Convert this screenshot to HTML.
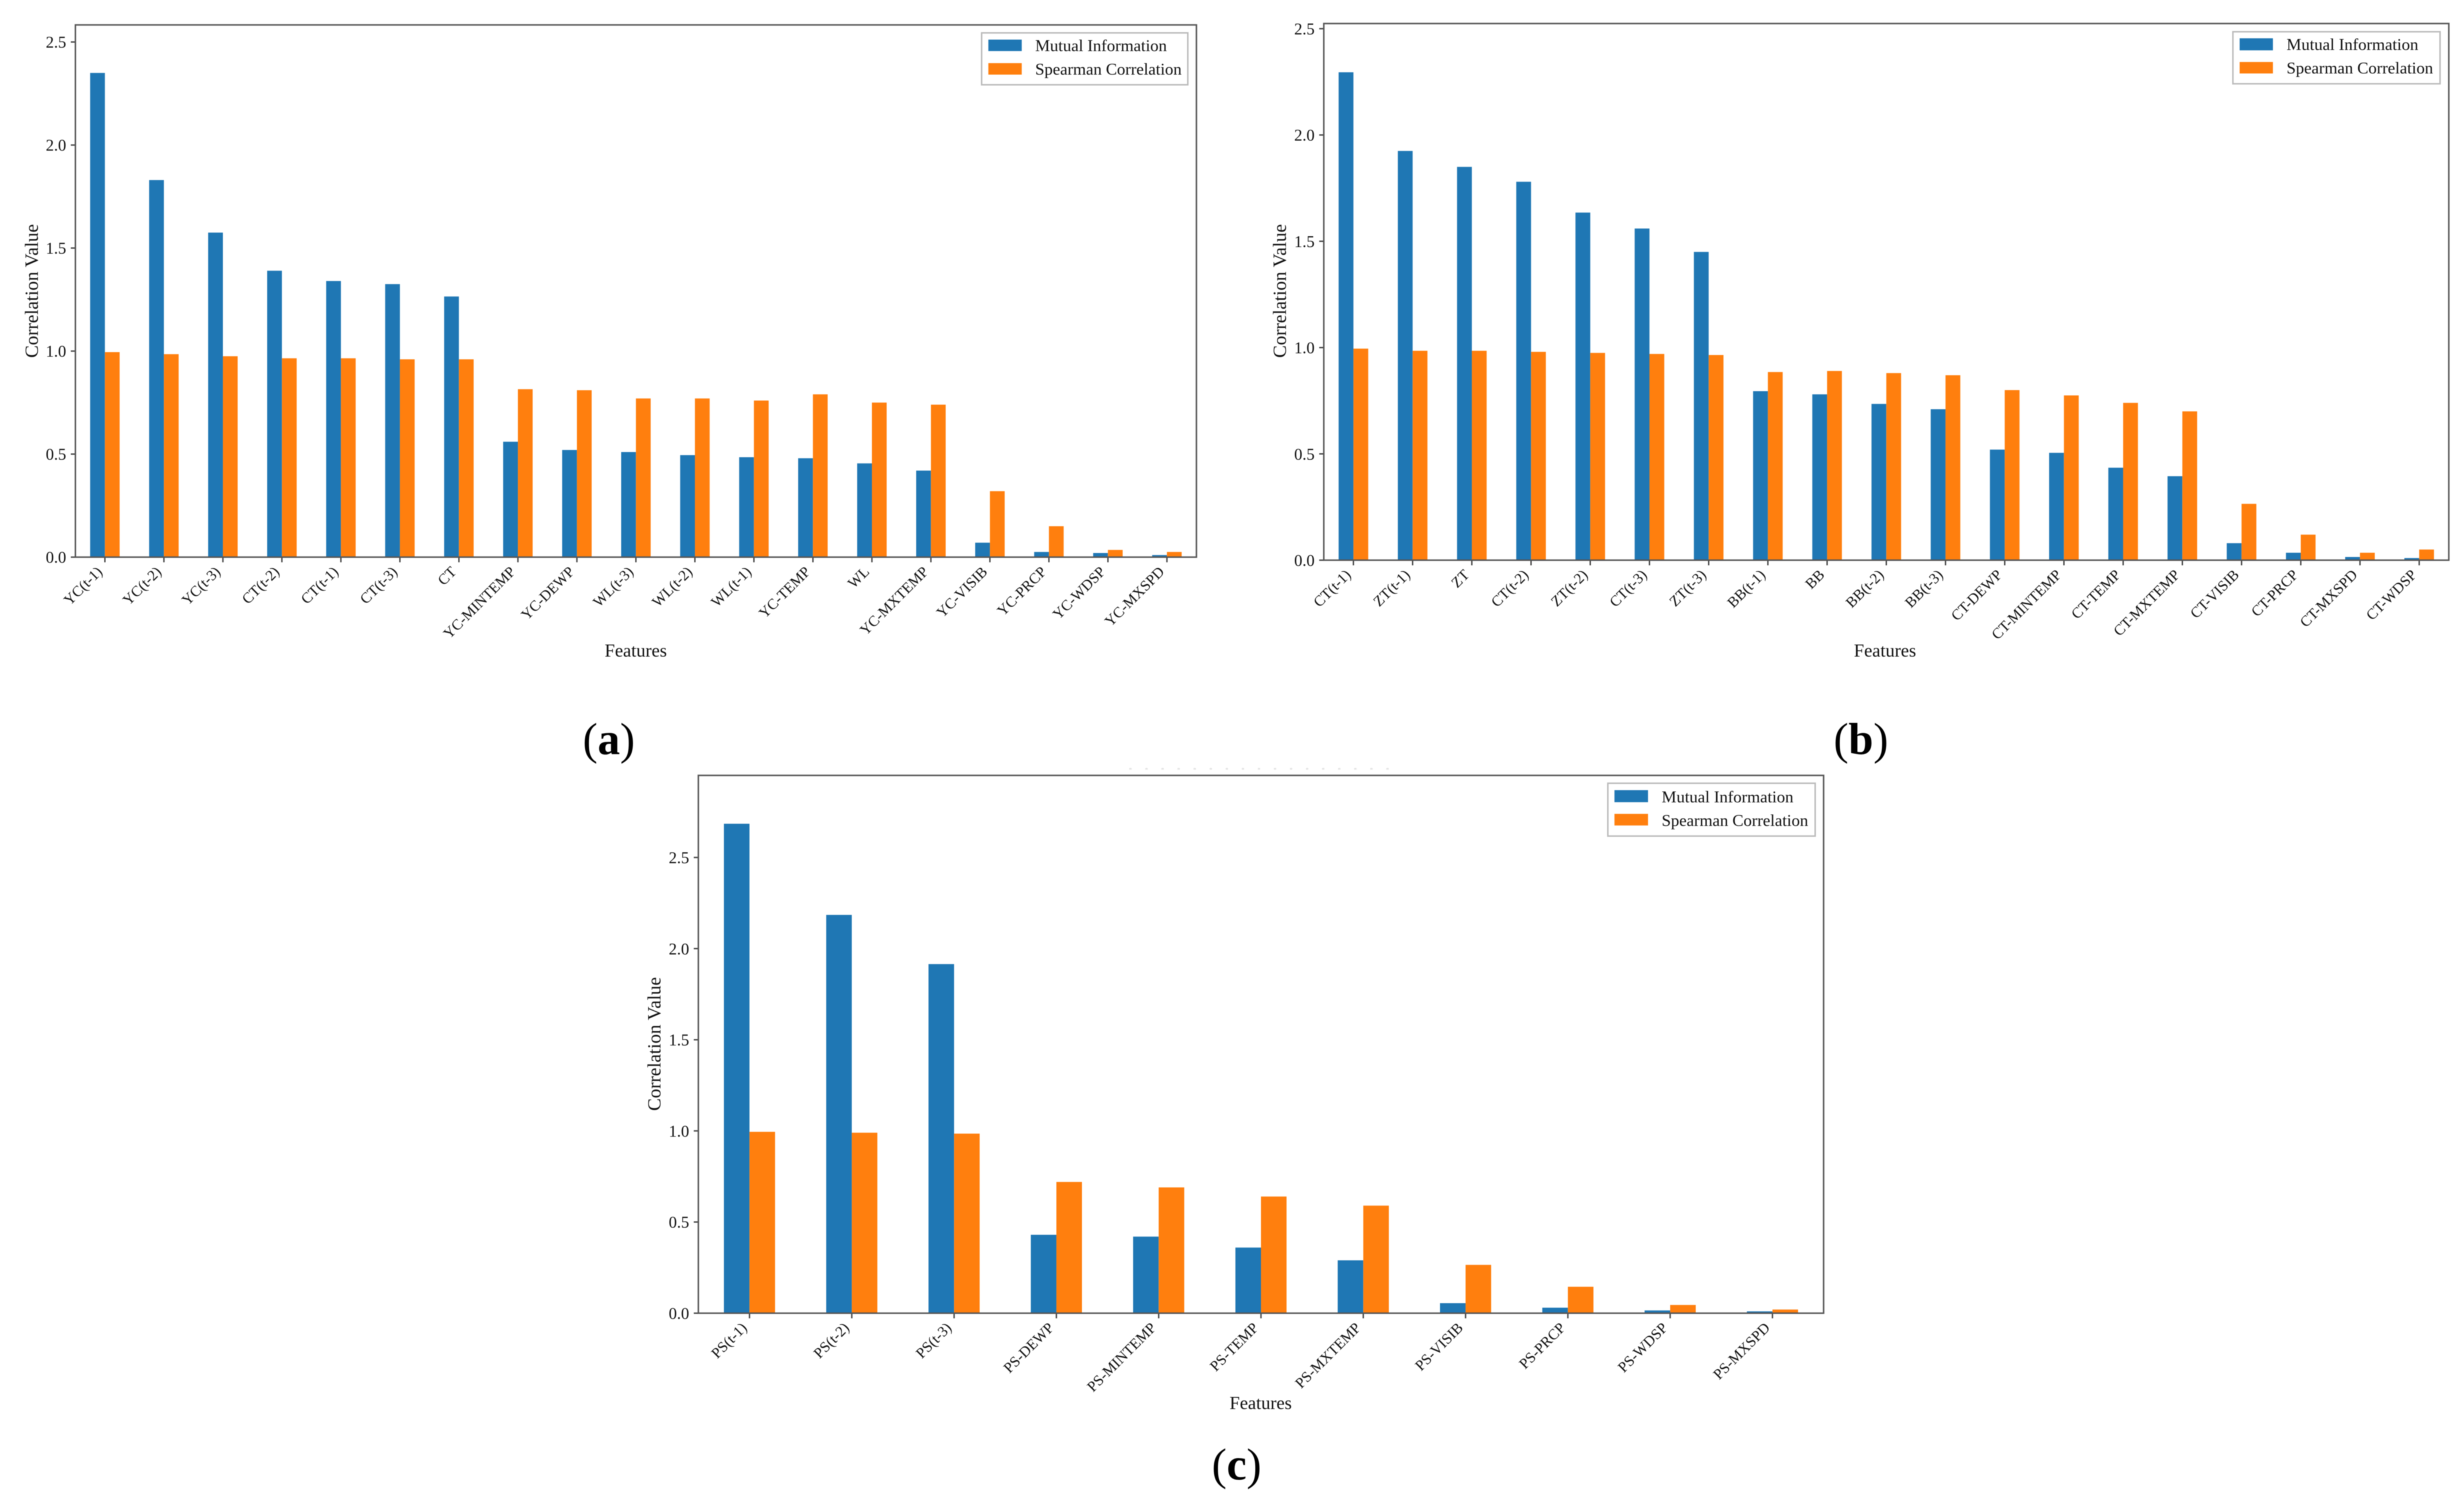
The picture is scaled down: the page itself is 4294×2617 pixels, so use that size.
<!DOCTYPE html>
<html lang="en">
<head>
<meta charset="utf-8">
<title>Feature correlation charts</title>
<style>
html,body{margin:0;padding:0;background:#fff;width:4294px;height:2617px;overflow:hidden}
svg{display:block;filter:blur(.7px)}
text{font-family:"Liberation Serif","DejaVu Serif",serif;fill:#111}
.frame{fill:none;stroke:#555;stroke-width:2.6}
.legend-box{fill:#fff;stroke:#bbb;stroke-width:2.6}
.legend-text{font-size:29px}
.axis-title{font-size:32px}
.y-title{font-size:33px}
.panel-letter{font-size:78px;fill:#000}
.tick{stroke:#444;stroke-width:2.4}
.ytick-label{font-size:28.5px;text-anchor:end}
.xtick-label{font-size:26px;text-anchor:end}
</style>
</head>
<body>
<svg id="figure" width="4294" height="2617" viewBox="0 0 4294 2617" xmlns="http://www.w3.org/2000/svg">
  <rect x="0" y="0" width="4294" height="2617" fill="#fff"/>
  <line x1="1968" y1="1339.5" x2="2425" y2="1339.5" stroke="#e4e4e4" stroke-width="3" stroke-dasharray="4 24"/>

  <g id="panel-a">
    <g id="marks-a"></g>
    <rect class="frame" x="131.4" y="43.4" width="1953.6" height="927.3"/>
    <text class="y-title" transform="translate(66,507) rotate(-90)" text-anchor="middle">Correlation Value</text>
    <text class="axis-title" x="1108" y="1144" text-anchor="middle">Features</text>
    <g>
      <rect class="legend-box" x="1710.7" y="57.3" width="359.3" height="90.4"/>
      <rect x="1722.4" y="69" width="58.2" height="20" fill="#1f77b4"/>
      <text class="legend-text" x="1804" y="89">Mutual Information</text>
      <rect x="1722.4" y="110" width="58.2" height="20" fill="#ff7f0e"/>
      <text class="legend-text" x="1804" y="130">Spearman Correlation</text>
    </g>
    <text class="panel-letter" x="1061" y="1314" text-anchor="middle">(<tspan font-weight="700">a</tspan>)</text>
  </g>

  <g id="panel-b">
    <g id="marks-b"></g>
    <rect class="frame" x="2307" y="41" width="1960.5" height="935"/>
    <text class="y-title" transform="translate(2241,507) rotate(-90)" text-anchor="middle">Correlation Value</text>
    <text class="axis-title" x="3285" y="1144" text-anchor="middle">Features</text>
    <g>
      <rect class="legend-box" x="3891.3" y="55.3" width="361" height="90.7"/>
      <rect x="3903" y="66.7" width="58" height="21" fill="#1f77b4"/>
      <text class="legend-text" x="3984.8" y="87">Mutual Information</text>
      <rect x="3903" y="108" width="58" height="20" fill="#ff7f0e"/>
      <text class="legend-text" x="3984.8" y="128">Spearman Correlation</text>
    </g>
    <text class="panel-letter" x="3243" y="1314" text-anchor="middle">(<tspan font-weight="700">b</tspan>)</text>
  </g>

  <g id="panel-c">
    <g id="marks-c"></g>
    <rect class="frame" x="1217" y="1351" width="1961" height="937"/>
    <text class="y-title" transform="translate(1151,1819) rotate(-90)" text-anchor="middle">Correlation Value</text>
    <text class="axis-title" x="2197" y="2455" text-anchor="middle">Features</text>
    <g>
      <rect class="legend-box" x="2802" y="1364.7" width="361.3" height="92"/>
      <rect x="2813.5" y="1376.7" width="58.5" height="21" fill="#1f77b4"/>
      <text class="legend-text" x="2895.8" y="1398">Mutual Information</text>
      <rect x="2813.5" y="1418" width="58.5" height="20.3" fill="#ff7f0e"/>
      <text class="legend-text" x="2895.8" y="1439">Spearman Correlation</text>
    </g>
    <text class="panel-letter" x="2155" y="2578" text-anchor="middle">(<tspan font-weight="700">c</tspan>)</text>
  </g>
</svg>

<script>
// Panel (a) data
const categoriesA = ["YC(t-1)","YC(t-2)","YC(t-3)","CT(t-2)","CT(t-1)","CT(t-3)","CT","YC-MINTEMP","YC-DEWP","WL(t-3)","WL(t-2)","WL(t-1)","YC-TEMP","WL","YC-MXTEMP","YC-VISIB","YC-PRCP","YC-WDSP","YC-MXSPD"];
const mutualInfoA = [2.35,1.83,1.575,1.39,1.34,1.325,1.265,0.56,0.52,0.51,0.495,0.485,0.48,0.455,0.42,0.07,0.025,0.02,0.01];
const spearmanA = [0.995,0.985,0.975,0.965,0.965,0.96,0.96,0.815,0.81,0.77,0.77,0.76,0.79,0.75,0.74,0.32,0.15,0.035,0.025];
const yTickValuesA = [0,0.5,1,1.5,2,2.5];
const yTickLabelsA = ["0.0","0.5","1.0","1.5","2.0","2.5"];

// Panel (b) data
const categoriesB = ["CT(t-1)","ZT(t-1)","ZT","CT(t-2)","ZT(t-2)","CT(t-3)","ZT(t-3)","BB(t-1)","BB","BB(t-2)","BB(t-3)","CT-DEWP","CT-MINTEMP","CT-TEMP","CT-MXTEMP","CT-VISIB","CT-PRCP","CT-MXSPD","CT-WDSP"];
const mutualInfoB = [2.295,1.925,1.85,1.78,1.635,1.56,1.45,0.795,0.78,0.735,0.71,0.52,0.505,0.435,0.395,0.08,0.035,0.015,0.01];
const spearmanB = [0.995,0.985,0.985,0.98,0.975,0.97,0.965,0.885,0.89,0.88,0.87,0.8,0.775,0.74,0.7,0.265,0.12,0.035,0.05];
const yTickValuesB = [0,0.5,1,1.5,2,2.5];
const yTickLabelsB = ["0.0","0.5","1.0","1.5","2.0","2.5"];

// Panel (c) data
const categoriesC = ["PS(t-1)","PS(t-2)","PS(t-3)","PS-DEWP","PS-MINTEMP","PS-TEMP","PS-MXTEMP","PS-VISIB","PS-PRCP","PS-WDSP","PS-MXSPD"];
const mutualInfoC = [2.685,2.185,1.915,0.43,0.42,0.36,0.29,0.055,0.03,0.015,0.01];
const spearmanC = [0.995,0.99,0.985,0.72,0.69,0.64,0.59,0.265,0.145,0.045,0.02];
const yTickValuesC = [0,0.5,1,1.5,2,2.5];
const yTickLabelsC = ["0.0","0.5","1.0","1.5","2.0","2.5"];

const SVG_NS = "http://www.w3.org/2000/svg";

function makeXScale(left, width, count) {
  const step = width / count;
  return function (i) { return left + (i + 0.5) * step; };
}
function makeYScale(zero, pxPerUnit) {
  return function (v) { return zero - v * pxPerUnit; };
}
function drawPanel(key, frame, categories, seriesMI, seriesSP, tickValues, tickLabels) {
  const root = document.getElementById("marks-" + key);
  const x = makeXScale(frame.left, frame.width, categories.length);
  const y = makeYScale(frame.zero, frame.pxPerUnit);
  const barW = frame.width / categories.length * 0.25;

  categories.forEach(function (name, i) {
    const cx = x(i);

    const barMI = document.createElementNS(SVG_NS, "rect");
    barMI.setAttribute("x", cx - barW);
    barMI.setAttribute("y", y(seriesMI[i]));
    barMI.setAttribute("width", barW);
    barMI.setAttribute("height", y(0) - y(seriesMI[i]));
    barMI.setAttribute("fill", "#1f77b4");
    
    
    root.appendChild(barMI);

    const barSP = document.createElementNS(SVG_NS, "rect");
    barSP.setAttribute("x", cx);
    barSP.setAttribute("y", y(seriesSP[i]));
    barSP.setAttribute("width", barW);
    barSP.setAttribute("height", y(0) - y(seriesSP[i]));
    barSP.setAttribute("fill", "#ff7f0e");
    
    
    root.appendChild(barSP);

    const tick = document.createElementNS(SVG_NS, "line");
    tick.setAttribute("class", "tick");
    tick.setAttribute("x1", cx);
    tick.setAttribute("x2", cx);
    tick.setAttribute("y1", y(0));
    tick.setAttribute("y2", y(0) + 9);
    
    
    root.appendChild(tick);

    const label = document.createElementNS(SVG_NS, "text");
    label.setAttribute("class", "xtick-label");
    label.setAttribute("transform", "translate(" + (cx - 3) + "," + (y(0) + 27) + ") rotate(-45)");
    label.textContent = name;
    
    
    root.appendChild(label);
  });

  tickValues.forEach(function (v, i) {
    const tick = document.createElementNS(SVG_NS, "line");
    tick.setAttribute("class", "tick");
    tick.setAttribute("x1", frame.left - 8);
    tick.setAttribute("x2", frame.left);
    tick.setAttribute("y1", y(v));
    tick.setAttribute("y2", y(v));
    
    
    root.appendChild(tick);

    const label = document.createElementNS(SVG_NS, "text");
    label.setAttribute("class", "ytick-label");
    label.setAttribute("x", frame.left - 16);
    label.setAttribute("y", y(v) + 10);
    label.textContent = tickLabels[i];
    
    
    root.appendChild(label);
  });
}

drawPanel("a", {left: 131.4, width: 1953.6, zero: 970.7, pxPerUnit: 359}, categoriesA, mutualInfoA, spearmanA, yTickValuesA, yTickLabelsA);
drawPanel("b", {left: 2307, width: 1960.5, zero: 976, pxPerUnit: 370.4}, categoriesB, mutualInfoB, spearmanB, yTickValuesB, yTickLabelsB);
drawPanel("c", {left: 1217, width: 1961, zero: 2288, pxPerUnit: 317.6}, categoriesC, mutualInfoC, spearmanC, yTickValuesC, yTickLabelsC);
</script>
</body>
</html>
